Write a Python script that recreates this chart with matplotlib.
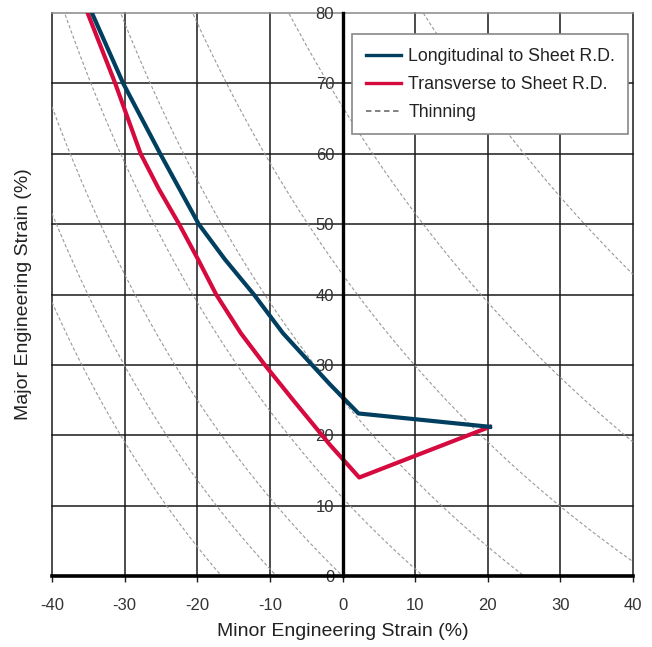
#!/usr/bin/env python3
"""Forming limit curves with thinning reference lines."""
import matplotlib
matplotlib.use("Agg")
import matplotlib.pyplot as plt
import numpy as np
from matplotlib.lines import Line2D

plt.rcParams["font.family"] = ["Liberation Sans", "DejaVu Sans"]

# curves: minor strain (x), major strain (y), in %
LONG_MINOR = [-34.5, -30.2, -25.1, -19.8, -16.2, -12.2, -8.2, -4.2, -1.7, 2.2, 20.3]
LONG_MAJOR = [80.0, 70.0, 60.0, 50.0, 45.0, 40.0, 34.5, 30.0, 27.2, 23.1, 21.2]
TRANS_MINOR = [-35.1, -31.3, -27.8, -25.3, -22.5, -19.9, -17.4, -14.0, -10.7,
               -6.8, -1.7, 2.3, 20.3]
TRANS_MAJOR = [80.0, 70.0, 60.0, 55.0, 50.0, 45.0, 40.0, 34.5, 30.0,
               25.0, 18.6, 14.0, 21.2]
# thickness reduction (%) for each thinning line
THINNING = [-20, -10, 0, 10, 20, 30, 40, 50]

X_TICKS = [-40, -30, -20, -10, 0, 10, 20, 30, 40]
Y_TICKS = [0, 10, 20, 30, 40, 50, 60, 70, 80]

BLUE = "#003f5f"
RED = "#d50a3e"
GRID = "#1a1a1a"
TEXT = "#333333"


def main():
    fig = plt.figure(figsize=(6.52, 6.47), dpi=100)
    ax = fig.add_axes([0.0798, 0.1097, 0.8911, 0.8702])
    ax.set_xlim(-40, 40)
    ax.set_ylim(0, 80)

    # grid and frame
    for x in X_TICKS:
        ax.axvline(x, color=GRID, lw=1.1, zorder=1, clip_on=False)
    for y in Y_TICKS[1:-1]:
        ax.axhline(y, color=GRID, lw=1.1, zorder=1, clip_on=False)
    ax.axhline(80, color="#888888", lw=1.1, zorder=1, clip_on=False)

    # thinning lines: (1 + e1)(1 + e2)(1 - t) = 1
    e2 = np.linspace(-0.4, 0.4, 400)
    for t in THINNING:
        k = 1.0 / (1 - t / 100.0)
        e1 = k / (1 + e2) - 1
        ax.plot(100 * e2, 100 * e1, color="#999999", lw=0.8,
                dashes=(3, 2), zorder=2)

    ax.plot(LONG_MINOR, LONG_MAJOR, color=BLUE, lw=3, zorder=4)
    ax.plot(TRANS_MINOR, TRANS_MAJOR, color=RED, lw=3, zorder=3)

    for s in ["top", "right"]:
        ax.spines[s].set_visible(False)
    ax.spines["left"].set_position(("data", 0))
    ax.spines["left"].set_linewidth(2.4)
    ax.spines["left"].set_zorder(5)
    ax.spines["bottom"].set_linewidth(2.6)
    ax.spines["bottom"].set_zorder(5)

    ax.set_xticks(X_TICKS, [str(v) for v in X_TICKS])
    ax.set_yticks(Y_TICKS, [str(v) for v in Y_TICKS])
    ax.tick_params(axis="x", length=4, width=1, color=GRID, pad=12,
                   labelsize=12, labelcolor=TEXT)
    ax.tick_params(axis="y", length=0, pad=6, labelsize=12, labelcolor=TEXT)
    for lab in ax.get_yticklabels():
        lab.set_zorder(6)

    ax.set_xlabel("Minor Engineering Strain (%)", fontsize=14, color="#222222",
                  labelpad=7)
    ax.set_ylabel("Major Engineering Strain (%)", fontsize=14, color="#222222")
    ax.yaxis.set_label_coords(-0.035, 0.5)

    handles = [
        Line2D([], [], color=BLUE, lw=2.4),
        Line2D([], [], color=RED, lw=2.4),
        Line2D([], [], color="#777777", lw=1.3, dashes=(3, 2)),
    ]
    labels = ["Longitudinal to Sheet R.D.", "Transverse to Sheet R.D.", "Thinning"]
    leg = ax.legend(handles, labels, loc="upper right",
                    bbox_to_anchor=(0.992, 0.962), fontsize=12.8,
                    fancybox=False, framealpha=1, edgecolor="#888888",
                    handlelength=2.0, handletextpad=0.4, borderpad=0.75,
                    borderaxespad=0, labelspacing=0.62, labelcolor="#222222")
    leg.get_frame().set_linewidth(1.2)
    leg.set_zorder(7)

    fig.savefig("out.png", dpi=100)


if __name__ == "__main__":
    main()
